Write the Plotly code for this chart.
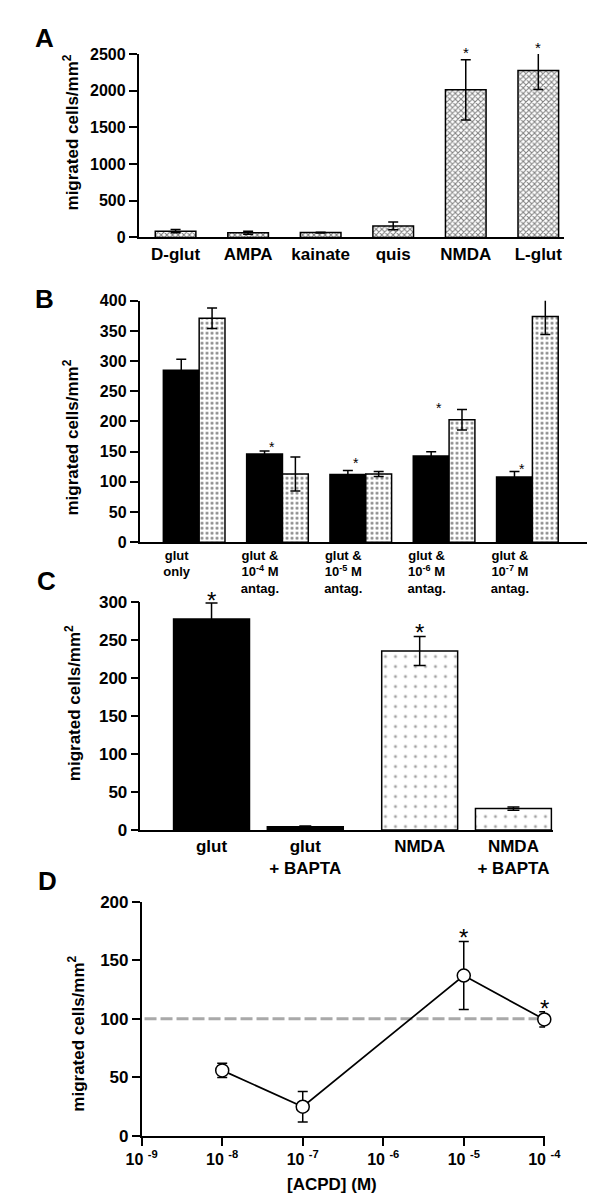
import math
import plotly.graph_objects as go

W, H = 602, 1199

# ---------------- data ----------------
# Panel A
a_cats = ["D-glut", "AMPA", "kainate", "quis", "NMDA", "L-glut"]
a_vals = [85, 63, 67, 157, 2011, 2275]
a_err = [22, 20, 5, 52, 410, 260]
a_star = [None, None, None, None, 2560, 2630]

# Panel B
b_labels = ["glut<br>only",
            "glut &<br>10<sup>-4</sup> M<br>antag.",
            "glut &<br>10<sup>-5</sup> M<br>antag.",
            "glut &<br>10<sup>-6</sup> M<br>antag.",
            "glut &<br>10<sup>-7</sup> M<br>antag."]
b_black = [285, 146, 112, 143, 108]
b_black_err = [18, 5, 7, 7, 9]
b_dot = [371, 113, 113, 203, 374]
b_dot_err = [17, 28, 4, 17, 30]
b_star = [None, 163, 137, 228, 127]

# Panel C
c_labels = ["glut", "glut<br>+ BAPTA", "NMDA", "NMDA<br>+ BAPTA"]
c_pair = [0, 0, 1, 1]
c_member = [0, 1, 0, 1]
c_vals = [277, 4, 235, 28]
c_err = [21, 1, 19, 2]
c_star = [309, None, 266, None]

# Panel D
d_conc = [1e-8, 1e-7, 1e-5, 1e-4]
d_vals = [56, 25, 137, 99.5]
d_err = [6, 13, 29, 6.5]
d_star = [None, None, 174, 113]
d_base = 100
d_ticks = [1e-9, 1e-8, 1e-7, 1e-6, 1e-5, 1e-4]
d_ticktext = ["10 <sup>-9</sup>", "10 <sup>-8</sup>", "10 <sup>-7</sup>",
              "10 <sup>-6</sup>", "10 <sup>-5</sup>", "10 <sup>-4</sup>"]

# ---------------- styling helpers ----------------
FONT = "Liberation Sans"
BLACK = "black"


def xd(p0, p1):
    return [p0 / W, p1 / W]


def yd(pbot, ptop):
    return [1 - pbot / H, 1 - ptop / H]


def px(x):
    return x / W


def py(y):
    return 1 - y / H


axis_common = dict(showline=True, linecolor=BLACK, linewidth=1.5, showgrid=False,
                   zeroline=False, tickcolor=BLACK, tickwidth=1.5)

# axis geometry (domains and ranges)
A_ydom, A_yr = yd(224, 37.5), [0, 2500]
B_ydom, B_yr = yd(533.7, 288.3), [0, 400]
C_ydom, C_yr = yd(826, 594), [0, 300]
D_ydom, D_yr = yd(1137, 899), [0, 200]


def ypaper(v, dom, r):
    return dom[0] + (v - r[0]) / (r[1] - r[0]) * (dom[1] - dom[0])


fig = go.Figure()
ann = []


def star(xref, x, y, size):
    ann.append(dict(text="*", x=x, y=y, xref=xref, yref="paper", showarrow=False,
                    xanchor="center", yanchor="middle", yshift=-0.22 * size,
                    font=dict(family=FONT, size=size, color=BLACK)))


# ---------------- Panel A ----------------
fig.add_trace(go.Bar(
    x=list(range(len(a_cats))), y=a_vals, width=0.56,
    marker=dict(color="white", line=dict(color=BLACK, width=1.5),
                pattern=dict(shape="x", size=4, solidity=0.45, fgcolor=BLACK,
                             bgcolor="white", fillmode="overlay")),
    error_y=dict(type="data", array=a_err, color=BLACK, thickness=1.5, width=5, visible=True),
    xaxis="x", yaxis="y", cliponaxis=False, showlegend=False))
for i, s in enumerate(a_star):
    if s is not None:
        star("x", i, ypaper(s, A_ydom, A_yr), 15)

# ---------------- Panel B ----------------
bw_black, bw_dot = 0.43, 0.31
fig.add_trace(go.Bar(
    x=list(range(len(b_labels))), y=b_black, width=bw_black, offset=-bw_black,
    marker=dict(color=BLACK, line=dict(color=BLACK, width=1.5)),
    error_y=dict(type="data", array=b_black_err, color=BLACK, thickness=1.5, width=5),
    xaxis="x2", yaxis="y2", cliponaxis=False, showlegend=False))
fig.add_trace(go.Bar(
    x=list(range(len(b_labels))), y=b_dot, width=bw_dot, offset=0,
    marker=dict(color="white", line=dict(color=BLACK, width=1.5),
                pattern=dict(shape=".", size=5, solidity=0.25, fgcolor=BLACK,
                             bgcolor="white", fillmode="overlay")),
    error_y=dict(type="data", array=b_dot_err, color=BLACK, thickness=1.5, width=5),
    xaxis="x2", yaxis="y2", cliponaxis=False, showlegend=False))
b_star_dx = -0.12
for i, s in enumerate(b_star):
    if s is not None:
        star("x2", i + b_star_dx, ypaper(s, B_ydom, B_yr), 14)

# ---------------- Panel C ----------------
pair_step = 2.22
c_x = [p * pair_step + m for p, m in zip(c_pair, c_member)]
c_colors = [BLACK if p == 0 else "white" for p in c_pair]
c_shapes = ["" if p == 0 else "." for p in c_pair]
fig.add_trace(go.Bar(
    x=c_x, y=c_vals, width=0.81,
    marker=dict(color=c_colors, line=dict(color=BLACK, width=1.5),
                pattern=dict(shape=c_shapes, size=10, solidity=0.07, fgcolor=BLACK,
                             bgcolor="white", fillmode="overlay")),
    error_y=dict(type="data", array=c_err, color=BLACK, thickness=1.5, width=6),
    xaxis="x3", yaxis="y3", cliponaxis=False, showlegend=False))
for i, s in enumerate(c_star):
    if s is not None:
        star("x3", c_x[i], ypaper(s, C_ydom, C_yr), 24)

# ---------------- Panel D ----------------
fig.add_shape(type="line", xref="x4 domain", yref="y4", x0=0.007, x1=1.008,
              y0=d_base, y1=d_base, line=dict(color="#a9a9a9", width=3, dash="12px,4px"),
              layer="below")
fig.add_trace(go.Scatter(
    x=d_conc, y=d_vals, mode="lines+markers",
    line=dict(color=BLACK, width=1.7),
    marker=dict(symbol="circle", size=13, color="white", line=dict(color=BLACK, width=1.5)),
    error_y=dict(type="data", array=d_err, color=BLACK, thickness=1.5, width=5),
    xaxis="x4", yaxis="y4", cliponaxis=False, showlegend=False))
for i, s in enumerate(d_star):
    if s is not None:
        star("x4", math.log10(d_conc[i]), ypaper(s, D_ydom, D_yr), 24)

# D x-axis: -9 at 124.3 px, -4 at 549.5 px; range padded slightly so edge point is kept
d_lo, d_hi = -9, -3.99
dec_px = (549.5 - 124.3) / 5
d_right_px = 549.5 + (d_hi + 4) * dec_px

# ---------------- layout ----------------
fig.update_layout(
    width=W, height=H, margin=dict(l=0, r=0, t=0, b=0),
    paper_bgcolor="white", plot_bgcolor="white",
    font=dict(family=FONT, color=BLACK),
    barmode="overlay", showlegend=False,
    # A
    xaxis=dict(axis_common, domain=xd(121, 570), anchor="y", range=[-0.51, 5.35],
               tickmode="array", tickvals=list(range(len(a_cats))), ticktext=a_cats,
               ticks="", tickfont=dict(family=FONT, size=17, color=BLACK, weight="bold")),
    yaxis=dict(axis_common, domain=A_ydom, anchor="x", range=A_yr,
               tickvals=[0, 500, 1000, 1500, 2000, 2500], ticks="outside", ticklen=8,
               tickfont=dict(family=FONT, size=16, color=BLACK, weight="bold")),
    # B
    xaxis2=dict(axis_common, domain=xd(122, 595), anchor="y2", range=[-0.716, 4.66],
                tickmode="array", tickvals=[i - 0.27 for i in range(len(b_labels))],
                ticktext=b_labels, ticks="",
                tickfont=dict(family=FONT, size=13, color=BLACK, weight="bold")),
    yaxis2=dict(axis_common, domain=B_ydom, anchor="x2", range=B_yr,
                tickvals=list(range(0, 401, 50)), ticks="outside", ticklen=8,
                tickfont=dict(family=FONT, size=16, color=BLACK, weight="bold")),
    # C
    xaxis3=dict(axis_common, domain=xd(123, 558.5), anchor="y3", range=[-0.758, 3.64],
                tickmode="array", tickvals=c_x, ticktext=c_labels, ticks="",
                tickfont=dict(family=FONT, size=17, color=BLACK, weight="bold")),
    yaxis3=dict(axis_common, domain=C_ydom, anchor="x3", range=C_yr,
                tickvals=list(range(0, 301, 50)), ticks="outside", ticklen=8,
                tickfont=dict(family=FONT, size=17, color=BLACK, weight="bold")),
    # D
    xaxis4=dict(axis_common, domain=xd(124.3, d_right_px), anchor="y4", type="log",
                range=[d_lo, d_hi], tickmode="array", tickvals=d_ticks, ticktext=d_ticktext,
                ticks="outside", ticklen=8,
                tickfont=dict(family=FONT, size=16, color=BLACK, weight="bold")),
    yaxis4=dict(axis_common, domain=D_ydom, anchor="x4", range=D_yr,
                tickvals=[0, 50, 100, 150, 200], ticks="outside", ticklen=8,
                tickfont=dict(family=FONT, size=17, color=BLACK, weight="bold")),
)

ytitle = "migrated cells/mm<sup>2</sup>"
for (xc, yc) in [(50, 117), (50, 427), (52, 697), (55, 1033)]:
    ann.append(dict(text=ytitle, x=px(xc), y=py(yc), xref="paper", yref="paper",
                    textangle=-90, showarrow=False, xanchor="center", yanchor="middle",
                    font=dict(family=FONT, size=17, color=BLACK, weight="bold")))
for letter, (xc, yc) in zip("ABCD", [(22, 21), (22, 287), (24, 573), (25, 878)]):
    ann.append(dict(text=letter, x=px(xc), y=py(yc), xref="paper", yref="paper",
                    showarrow=False, xanchor="center", yanchor="middle",
                    font=dict(family=FONT, size=26, color=BLACK, weight="bold")))
ann.append(dict(text="[ACPD] (M)", x=px(325), y=py(1186), xref="paper", yref="paper",
                showarrow=False, xanchor="center", yanchor="middle",
                font=dict(family=FONT, size=17, color=BLACK, weight="bold")))
fig.update_layout(annotations=ann)

fig.write_html("out.html")
